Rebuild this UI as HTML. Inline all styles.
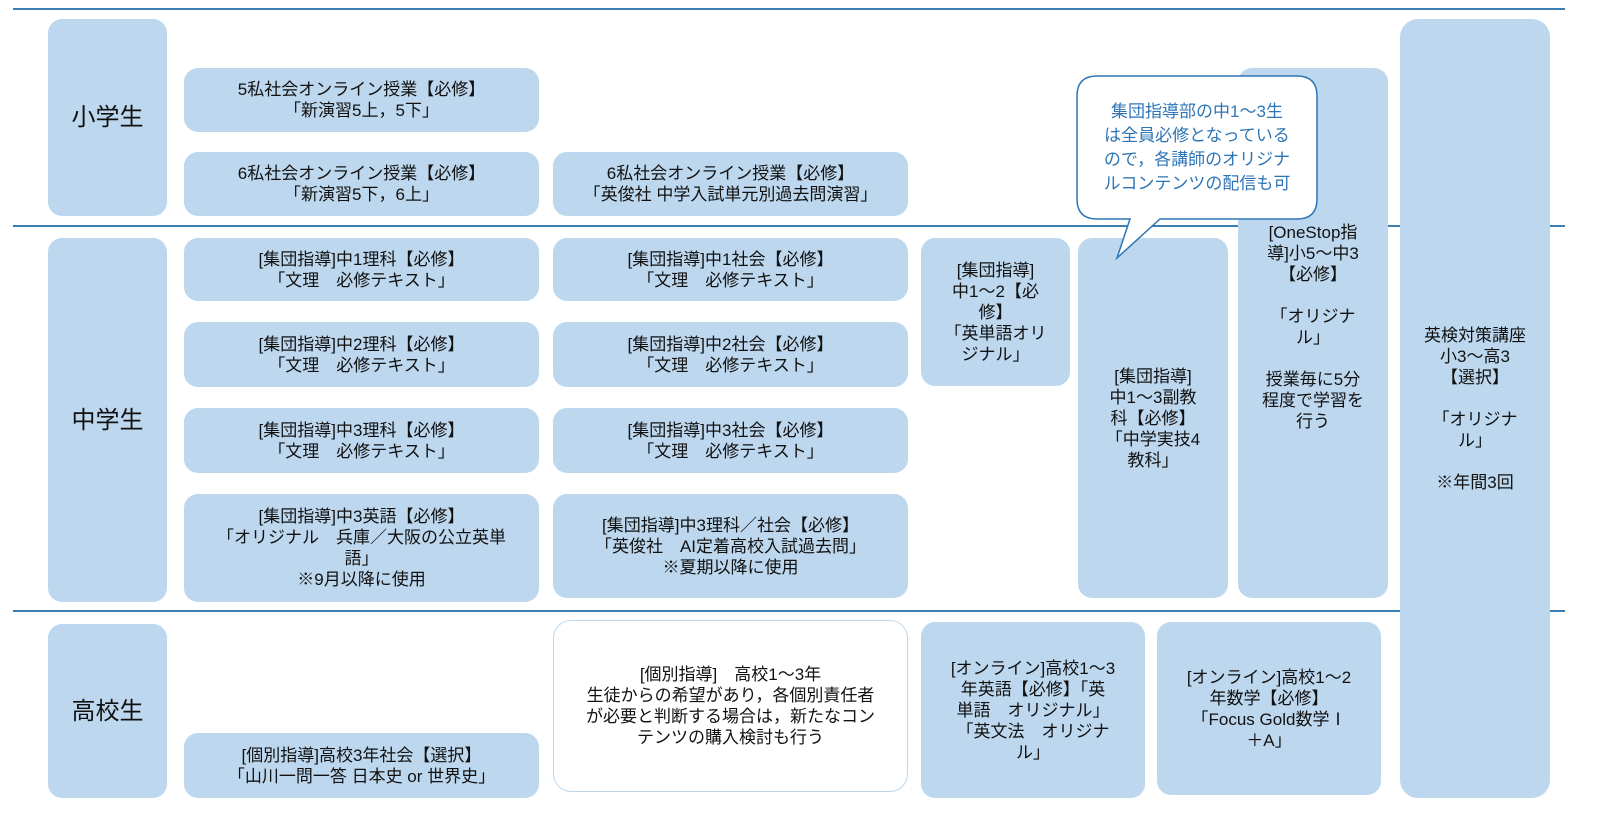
<!DOCTYPE html>
<html><head><meta charset="utf-8"><style>
body{margin:0;width:1603px;height:829px;background:#fff;position:relative;overflow:hidden;font-family:"Liberation Sans","Noto Sans CJK JP",sans-serif;color:#111}
.b{position:absolute;background:#bdd7ee;border-radius:14px;display:flex;align-items:center;justify-content:center;text-align:center;font-size:17px;line-height:21px;box-sizing:border-box}
.h{font-size:24px}
.l{position:absolute;left:13px;width:1552px;height:2px;background:#3b7fb3}
</style></head><body>
<div class="l" style="top:8px"></div>
<div class="l" style="top:225px"></div>
<div class="l" style="top:610px"></div>

<div class="b h" style="left:48px;top:19px;width:119px;height:197px">小学生</div>
<div class="b h" style="left:48px;top:238px;width:119px;height:364px">中学生</div>
<div class="b h" style="left:48px;top:624px;width:119px;height:174px">高校生</div>

<div class="b" style="left:184px;top:68px;width:355px;height:64px">5私社会オンライン授業【必修】<br>「新演習5上，5下」</div>
<div class="b" style="left:184px;top:152px;width:355px;height:64px">6私社会オンライン授業【必修】<br>「新演習5下，6上」</div>
<div class="b" style="left:553px;top:152px;width:355px;height:64px">6私社会オンライン授業【必修】<br>「英俊社 中学入試単元別過去問演習」</div>

<div class="b" style="left:184px;top:238px;width:355px;height:63px">[集団指導]中1理科【必修】<br>「文理　必修テキスト」</div>
<div class="b" style="left:184px;top:322px;width:355px;height:65px">[集団指導]中2理科【必修】<br>「文理　必修テキスト」</div>
<div class="b" style="left:184px;top:408px;width:355px;height:65px">[集団指導]中3理科【必修】<br>「文理　必修テキスト」</div>
<div class="b" style="left:184px;top:494px;width:355px;height:108px">[集団指導]中3英語【必修】<br>「オリジナル　兵庫／大阪の公立英単<br>語」<br>※9月以降に使用</div>

<div class="b" style="left:553px;top:238px;width:355px;height:63px">[集団指導]中1社会【必修】<br>「文理　必修テキスト」</div>
<div class="b" style="left:553px;top:322px;width:355px;height:65px">[集団指導]中2社会【必修】<br>「文理　必修テキスト」</div>
<div class="b" style="left:553px;top:408px;width:355px;height:65px">[集団指導]中3社会【必修】<br>「文理　必修テキスト」</div>
<div class="b" style="left:553px;top:494px;width:355px;height:104px">[集団指導]中3理科／社会【必修】<br>「英俊社　AI定着高校入試過去問」<br>※夏期以降に使用</div>

<div class="b" style="left:921px;top:238px;width:149px;height:148px">[集団指導]<br>中1～2【必<br>修】<br>「英単語オリ<br>ジナル」</div>
<div class="b" style="left:1078px;top:238px;width:150px;height:360px">[集団指導]<br>中1～3副教<br>科【必修】<br>「中学実技4<br>教科」</div>
<div class="b" style="left:1238px;top:68px;width:150px;height:530px;align-items:flex-start;padding-top:154px">[OneStop指<br>導]小5～中3<br>【必修】<br><br>「オリジナ<br>ル」<br><br>授業毎に5分<br>程度で学習を<br>行う</div>
<div class="b" style="left:1400px;top:19px;width:150px;height:779px;border-radius:18px">英検対策講座<br>小3～高3<br>【選択】<br><br>「オリジナ<br>ル」<br><br>※年間3回</div>

<div class="b" style="left:184px;top:733px;width:355px;height:65px">[個別指導]高校3年社会【選択】<br>「山川一問一答 日本史 or 世界史」</div>
<div class="b" style="left:553px;top:620px;width:355px;height:172px;background:#fff;border:1.5px solid #bdd7ee;border-radius:18px">[個別指導]　高校1～3年<br>生徒からの希望があり，各個別責任者<br>が必要と判断する場合は，新たなコン<br>テンツの購入検討も行う</div>
<div class="b" style="left:921px;top:622px;width:224px;height:176px">[オンライン]高校1～3<br>年英語【必修】「英<br>単語　オリジナル」<br>「英文法　オリジナ<br>ル」</div>
<div class="b" style="left:1157px;top:622px;width:224px;height:173px">[オンライン]高校1～2<br>年数学【必修】<br>「Focus Gold数学Ⅰ<br>＋A」</div>

<svg style="position:absolute;left:0;top:0" width="1603" height="829">
<path d="M1097,76 H1297 Q1317,76 1317,96 V199 Q1317,219 1297,219 H1160 L1117,258 L1130,219 H1097 Q1077,219 1077,199 V96 Q1077,76 1097,76 Z" fill="#fff" stroke="#2e75b6" stroke-width="1.5"/>
<g font-size="17" fill="#2e75b6" text-anchor="middle" font-family="Liberation Sans, Noto Sans CJK JP, sans-serif">
<text x="1197" y="117">集団指導部の中1～3生</text>
<text x="1197" y="141">は全員必修となっている</text>
<text x="1197" y="165">ので，各講師のオリジナ</text>
<text x="1197" y="189">ルコンテンツの配信も可</text>
</g>
</svg>
</body></html>
